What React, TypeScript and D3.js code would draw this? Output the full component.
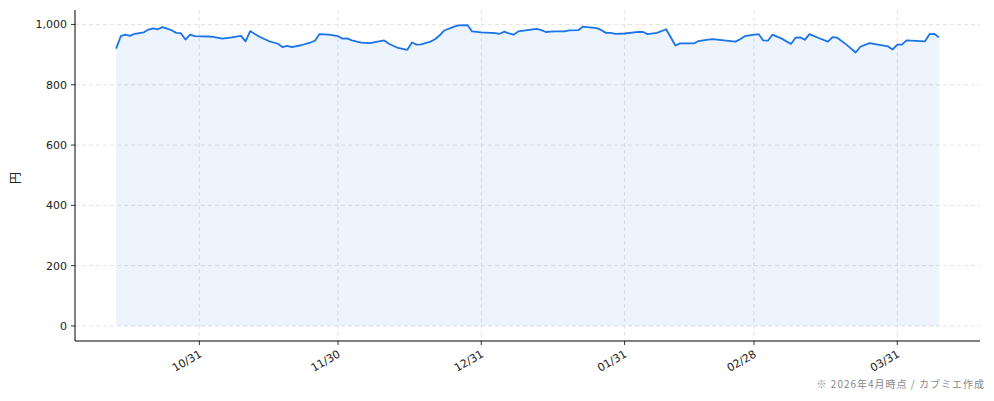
import * as d3 from "d3";

const dates = [
  "2025-10-13", "2025-10-14", "2025-10-15", "2025-10-16", "2025-10-17", "2025-10-19",
  "2025-10-20", "2025-10-21", "2025-10-22", "2025-10-23", "2025-10-25", "2025-10-26",
  "2025-10-27", "2025-10-28", "2025-10-29", "2025-10-30", "2025-11-02", "2025-11-03",
  "2025-11-05", "2025-11-07", "2025-11-09", "2025-11-10", "2025-11-11", "2025-11-13",
  "2025-11-15", "2025-11-17", "2025-11-18", "2025-11-19", "2025-11-20", "2025-11-22",
  "2025-11-24", "2025-11-25", "2025-11-26", "2025-11-28", "2025-11-30", "2025-12-01",
  "2025-12-02", "2025-12-03", "2025-12-05", "2025-12-07", "2025-12-08", "2025-12-10",
  "2025-12-11", "2025-12-13", "2025-12-15", "2025-12-16", "2025-12-17", "2025-12-18",
  "2025-12-20", "2025-12-21", "2025-12-22", "2025-12-23", "2025-12-25", "2025-12-26",
  "2025-12-28", "2025-12-29", "2025-12-31", "2026-01-03", "2026-01-04", "2026-01-05",
  "2026-01-06", "2026-01-07", "2026-01-08", "2026-01-10", "2026-01-12", "2026-01-13",
  "2026-01-14", "2026-01-15", "2026-01-16", "2026-01-18", "2026-01-19", "2026-01-21",
  "2026-01-22", "2026-01-23", "2026-01-25", "2026-01-26", "2026-01-27", "2026-01-28",
  "2026-01-29", "2026-01-31", "2026-02-03", "2026-02-04", "2026-02-05", "2026-02-07",
  "2026-02-09", "2026-02-11", "2026-02-12", "2026-02-15", "2026-02-16", "2026-02-17",
  "2026-02-19", "2026-02-21", "2026-02-24", "2026-02-25", "2026-02-26", "2026-02-27",
  "2026-03-01", "2026-03-02", "2026-03-03", "2026-03-04", "2026-03-06", "2026-03-08",
  "2026-03-09", "2026-03-10", "2026-03-11", "2026-03-12", "2026-03-14", "2026-03-16",
  "2026-03-17", "2026-03-18", "2026-03-20", "2026-03-22", "2026-03-23", "2026-03-25",
  "2026-03-29", "2026-03-30", "2026-03-31", "2026-04-01", "2026-04-02", "2026-04-06",
  "2026-04-07", "2026-04-08", "2026-04-09",
];

const prices = [
  920, 961, 966, 962, 969, 974,
  983, 987, 984, 991, 981, 972,
  971, 950, 966, 961, 960, 959,
  953, 957, 962, 944, 978, 959,
  945, 936, 925, 929, 925, 931,
  940, 946, 968, 966, 961, 953,
  954, 947, 940, 938, 941, 947,
  936, 922, 916, 940, 933, 934,
  943, 951, 964, 980, 992, 997,
  998, 977, 974, 971, 969, 976,
  970, 966, 977, 981, 985, 981,
  975, 976, 977, 977, 980, 981,
  993, 991, 988, 981, 972, 972,
  969, 970, 975, 975, 968, 972,
  984, 930, 937, 937, 945, 947,
  951, 948, 943, 951, 961, 964,
  968, 947, 946, 966, 953, 935,
  956, 957, 949, 968, 955, 943,
  958, 956, 933, 907, 926, 938,
  927, 917, 933, 933, 947, 944,
  968, 969, 957,
];

const xTickDates = ["2025-10-31", "2025-11-30", "2025-12-31", "2026-01-31", "2026-02-28", "2026-03-31"];
const yTicks = [0, 200, 400, 600, 800, 1000];

const yLabel = "円";
const footnote = "※ 2026年4月時点 / カブミエ作成";

const W = 994;
const H = 401;
const left = 75;
const right = 980;
const top = 10;
const bottom = 341;
const lineColor = "#1a73e8";
const font = "'DejaVu Sans', 'Noto Sans CJK JP', sans-serif";
const cjkFont = "'Noto Sans CJK JP', sans-serif";

export default function App() {
  const parse = d3.timeParse("%Y-%m-%d");
  const data = dates.map((d, i) => ({ date: parse(d)!, value: prices[i] }));

  const [d0, d1] = d3.extent(data, (d) => d.date) as [Date, Date];
  const span = d1.getTime() - d0.getTime();
  const x = d3
    .scaleTime()
    .domain([new Date(d0.getTime() - span * 0.05), new Date(d1.getTime() + span * 0.05)])
    .range([left, right]);

  const vMax = d3.max(prices)!;
  const y = d3
    .scaleLinear()
    .domain([-vMax * 0.05, vMax * 1.05])
    .range([bottom, top]);

  const line = d3
    .line<{ date: Date; value: number }>()
    .x((d) => x(d.date))
    .y((d) => y(d.value));
  const area = d3
    .area<{ date: Date; value: number }>()
    .x((d) => x(d.date))
    .y0(y(0))
    .y1((d) => y(d.value));

  const fmtX = d3.timeFormat("%m/%d");
  const fmtY = d3.format(",");
  const xTicks = xTickDates.map((d) => parse(d)!);

  return (
    <div style={{ position: "fixed", left: 0, top: 0 }}>
      <svg width={W} height={H} style={{ display: "block", background: "#fff" }}>
        {/* grid */}
        {yTicks.map((t) => (
          <line
            key={`gy${t}`}
            x1={left}
            x2={right}
            y1={y(t)}
            y2={y(t)}
            stroke="#dcdcdc"
            strokeWidth={0.8}
            strokeDasharray="4,3"
          />
        ))}
        {xTicks.map((t, i) => (
          <line
            key={`gx${i}`}
            x1={x(t)}
            x2={x(t)}
            y1={top}
            y2={bottom}
            stroke="#dcdcdc"
            strokeWidth={0.8}
            strokeDasharray="4,3"
          />
        ))}

        <path d={area(data)!} fill={lineColor} fillOpacity={0.08} />
        <path d={line(data)!} fill="none" stroke={lineColor} strokeWidth={1.8} strokeLinejoin="round" />

        {/* axes */}
        <line x1={left} x2={left} y1={top} y2={bottom} stroke="#000" strokeWidth={1} />
        <line x1={left} x2={right} y1={bottom} y2={bottom} stroke="#000" strokeWidth={1} />

        {yTicks.map((t) => (
          <g key={`ty${t}`} transform={`translate(${left},${y(t)})`}>
            <line x1={-4} x2={0} stroke="#000" strokeWidth={0.8} />
            <text
              x={-8}
              dy="0.35em"
              textAnchor="end"
              fontSize={11}
              fontFamily={font}
              fill="#222"
            >
              {fmtY(t)}
            </text>
          </g>
        ))}

        {xTicks.map((t, i) => (
          <g key={`tx${i}`} transform={`translate(${x(t)},${bottom})`}>
            <line y2={4} stroke="#000" strokeWidth={0.8} />
            <text
              transform="translate(-1,8) rotate(-30)"
              dy="0.75em"
              textAnchor="end"
              fontSize={11}
              fontFamily={font}
              fill="#222"
            >
              {fmtX(t)}
            </text>
          </g>
        ))}

        <text
          transform="translate(20,178) rotate(-90)"
          textAnchor="middle"
          fontSize={12}
          fontFamily={cjkFont}
          fill="#222"
        >
          {yLabel}
        </text>

        <text
          x={985}
          y={388}
          textAnchor="end"
          fontSize={10}
          letterSpacing={1}
          fontFamily={cjkFont}
          fill="#888"
        >
          {footnote}
        </text>
      </svg>
    </div>
  );
}
